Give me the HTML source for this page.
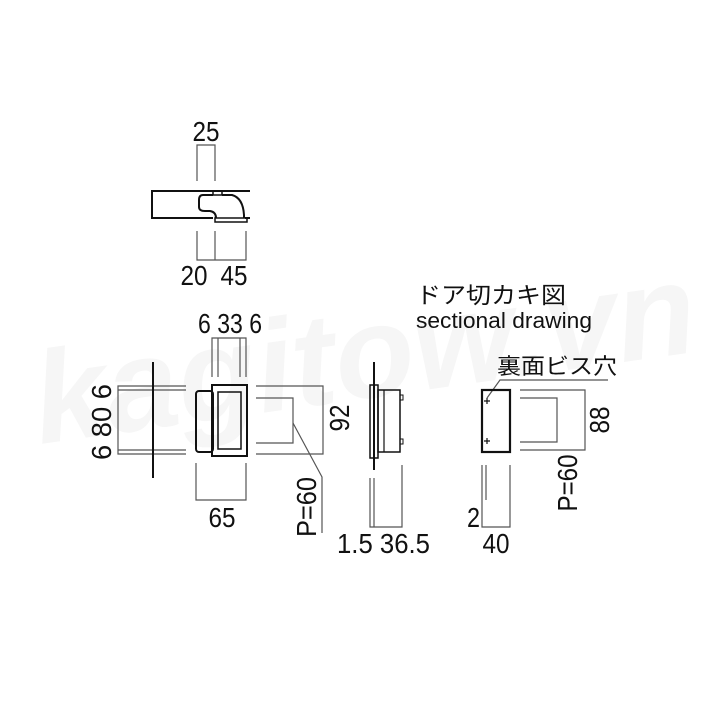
<!DOCTYPE html>
<html><head><meta charset="utf-8"><style>
html,body{margin:0;padding:0;background:#fff;}
svg{display:block;}
text{font-family:"Liberation Sans","Noto Sans CJK JP",sans-serif;fill:#111;}
.d{font-family:"Liberation Sans",sans-serif;font-size:28px;}
</style></head><body>
<svg width="709" height="709" viewBox="0 0 709 709" xmlns="http://www.w3.org/2000/svg">
<text x="30" y="400" font-size="130" font-weight="bold" font-style="italic" style="fill:#f6f6f6" transform="rotate(-8 350 350)">kagitow.vn</text>
<g fill="none" stroke="#555" stroke-width="1.2">
<polyline points="197,181 197,145 215,145 215,181"/>
<polyline points="197,231 197,260 246,260 246,231"/>
<line x1="215" y1="231" x2="215" y2="260"/>
<polyline points="212,377 212,338 246,338 246,377"/>
<line x1="218" y1="338" x2="218" y2="377"/>
<line x1="240" y1="338" x2="240" y2="377"/>
<polyline points="186,386 118,386 118,454 186,454"/>
<line x1="118" y1="390" x2="186" y2="390"/>
<line x1="118" y1="450" x2="186" y2="450"/>
<polyline points="256,386 323,386 323,454 256,454"/>
<polyline points="256,398 293,398 293,443 256,443"/>
<polyline points="293,423 322,477 322,533"/>
<polyline points="196,463 196,500 246,500 246,463"/>
<polyline points="370,478 370,527 402,527 402,465"/>
<line x1="374" y1="478" x2="374" y2="527"/>
<polyline points="520,390 585,390 585,450 520,450"/>
<polyline points="520,398 557,398 557,442 520,442"/>
<polyline points="482,465 482,527 510,527 510,465"/>
<line x1="486" y1="465" x2="486" y2="500"/>
<polyline points="487,398 500,380 608,380"/>
</g>
<g fill="none" stroke="#111" stroke-width="2">
<polyline points="250,191 152,191 152,218 213,218"/>
<line x1="245" y1="218" x2="250" y2="218"/>
<rect x="213" y="191" width="9" height="4" stroke-width="1.5"/>
<path d="M213,195 L203,195 Q199,195 199,200 L199,207 Q199,211 205,211 L210,211 Q216,212 216,218 M222,195 L232,195 Q243,198 244,215 L244,218"/>
<rect x="215" y="218" width="32" height="4" stroke-width="1.5"/>
<line x1="153" y1="362" x2="153" y2="478"/>
<rect x="196" y="391" width="17" height="61" rx="3"/>
<rect x="212" y="385" width="35" height="71"/>
<rect x="218" y="392" width="23" height="57" stroke-width="1.5"/>
<line x1="374" y1="362" x2="374" y2="470"/>
<rect x="370" y="385" width="8" height="73" stroke-width="1.5"/>
<rect x="378" y="390" width="22" height="62" stroke-width="1.5"/>
<line x1="384" y1="390" x2="384" y2="452" stroke-width="1.2"/>
<rect x="400" y="395" width="3" height="5" stroke-width="1"/>
<rect x="400" y="439" width="3" height="5" stroke-width="1"/>
<rect x="482" y="390" width="28" height="62" stroke-width="2.2"/>
<path d="M484,401 h6 M487,398 v6 M484,441 h6 M487,438 v6" stroke-width="1.2"/>
</g>
<g class="d" lengthAdjust="spacingAndGlyphs">
<text x="206" y="141" text-anchor="middle" textLength="27" lengthAdjust="spacingAndGlyphs">25</text>
<text x="194" y="285" text-anchor="middle" textLength="27" lengthAdjust="spacingAndGlyphs">20</text>
<text x="234" y="285" text-anchor="middle" textLength="27" lengthAdjust="spacingAndGlyphs">45</text>
<text x="198" y="333" textLength="64" lengthAdjust="spacingAndGlyphs">6 33 6</text>
<text x="222" y="527" text-anchor="middle" textLength="27" lengthAdjust="spacingAndGlyphs">65</text>
<text transform="translate(111,422) rotate(-90)" text-anchor="middle" textLength="76" lengthAdjust="spacingAndGlyphs">6 80 6</text>
<text transform="translate(349,418) rotate(-90)" text-anchor="middle" textLength="27" lengthAdjust="spacingAndGlyphs">92</text>
<text transform="translate(316,507) rotate(-90)" text-anchor="middle" textLength="60" lengthAdjust="spacingAndGlyphs">P=60</text>
<text x="337" y="553" textLength="93" lengthAdjust="spacingAndGlyphs">1.5 36.5</text>
<text x="467" y="527" textLength="13" lengthAdjust="spacingAndGlyphs">2</text>
<text x="496" y="553" text-anchor="middle" textLength="27" lengthAdjust="spacingAndGlyphs">40</text>
<text transform="translate(609,420) rotate(-90)" text-anchor="middle" textLength="27" lengthAdjust="spacingAndGlyphs">88</text>
<text transform="translate(577,483) rotate(-90)" text-anchor="middle" textLength="57" lengthAdjust="spacingAndGlyphs">P=60</text>
</g>
<text x="497" y="374" font-size="22" textLength="120" lengthAdjust="spacingAndGlyphs">裏面ビス穴</text>
<text x="416" y="303" font-size="23" textLength="150" lengthAdjust="spacingAndGlyphs">ドア切カキ図</text>
<text x="416" y="328" font-size="22" textLength="176" lengthAdjust="spacingAndGlyphs">sectional drawing</text>
</svg>
</body></html>
